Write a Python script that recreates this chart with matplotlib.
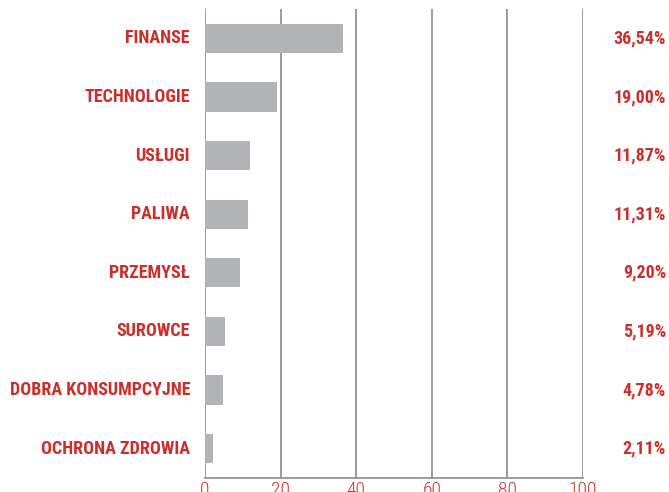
import matplotlib
matplotlib.use("Agg")
import matplotlib.pyplot as plt
import matplotlib.transforms as mtransforms
from matplotlib import font_manager

# sector weights (%)
sectors = ["FINANSE", "TECHNOLOGIE", "USŁUGI", "PALIWA", "PRZEMYSŁ",
           "SUROWCE", "DOBRA KONSUMPCYJNE", "OCHRONA ZDROWIA"]
weights = [36.54, 19.00, 11.87, 11.31, 9.20, 5.19, 4.78, 2.11]
value_labels = ["36,54%", "19,00%", "11,87%", "11,31%", "9,20%", "5,19%", "4,78%", "2,11%"]
xticks = [0, 20, 40, 60, 80, 100]


def find_font(candidates):
    files = {f.fname.split("/")[-1]: f.fname for f in font_manager.fontManager.ttflist}
    for c in candidates:
        if c in files:
            return font_manager.FontProperties(fname=files[c])
    return font_manager.FontProperties(family="DejaVu Sans", weight="bold")


bold_fp = find_font(["RobotoCondensed-Bold.ttf", "LiberationSansNarrow-Bold.ttf",
                     "BarlowSemiCondensed-Bold.ttf", "AsapCondensed-Bold.ttf"])
light_fp = find_font(["RobotoCondensed-Light.ttf", "RobotoCondensed-Regular.ttf",
                      "BarlowSemiCondensed-Light.ttf", "AsapCondensed-Light.ttf"])

red = "#c9302c"
bar_grey = "#b1b3b6"
grid_grey = "#8a8a8a"

fig = plt.figure(figsize=(6.69, 4.92), dpi=100)
ax = fig.add_axes([205 / 669, 1 - 478 / 492, 378 / 669, 469 / 492])

ypos = list(range(len(sectors)))
ax.barh(ypos, weights, height=0.5, color=bar_grey, zorder=2)

ax.set_xlim(0, 100)
ax.set_ylim(len(sectors) - 0.5, -0.5)
ax.set_xticks(xticks)
ax.set_xticklabels([str(t) for t in xticks])
for lbl in ax.get_xticklabels():
    lbl.set_fontproperties(light_fp)
    lbl.set_fontsize(14)
    lbl.set_color(red)
ax.tick_params(axis="x", length=0, pad=2)
ax.set_yticks([])

for t in xticks:
    ax.axvline(t, color=grid_grey, lw=1.2, zorder=1)

for s in ["top", "right", "left"]:
    ax.spines[s].set_visible(False)
ax.spines["bottom"].set_color(grid_grey)
ax.spines["bottom"].set_linewidth(1.2)

# labels: figure x, data y
trans = mtransforms.blended_transform_factory(fig.transFigure, ax.transData)
for y, name, lab in zip(ypos, sectors, value_labels):
    fig.text(190 / 669, y, name, transform=trans, ha="right", va="center",
             color=red, fontproperties=bold_fp, fontsize=13)
    fig.text(666 / 669, y, lab, transform=trans, ha="right", va="center",
             color=red, fontproperties=bold_fp, fontsize=13)

fig.savefig("out.png", dpi=100)
